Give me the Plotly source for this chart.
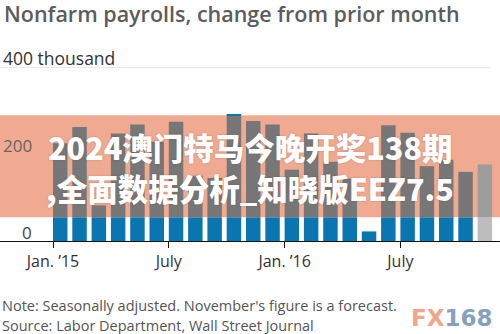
import plotly.graph_objects as go

# Monthly change in nonfarm payrolls, thousands (last month is a forecast)
months = [
    "2015-01", "2015-02", "2015-03", "2015-04", "2015-05", "2015-06",
    "2015-07", "2015-08", "2015-09", "2015-10", "2015-11", "2015-12",
    "2016-01", "2016-02", "2016-03", "2016-04", "2016-05", "2016-06",
    "2016-07", "2016-08", "2016-09", "2016-10", "2016-11",
]
payrolls = [
    225, 262, 82, 247, 268, 228,
    274, 150, 145, 292, 276, 268,
    164, 247, 182, 144, 22, 266,
    249, 172, 187, 159, 176,
]
forecast = [False] * 22 + [True]

tick_months = ["2015-01", "2015-07", "2016-01", "2016-07"]
tick_labels = ["Jan. ’15", "July", "Jan. ’16", "July"]

y_ticks = [0, 200, 400]
y_tick_labels = ["0", "200", "400 thousand"]

# ---- page geometry (pixels) ----
W, H = 500, 334
Y_ZERO_PX, Y_TOP_PX = 240.7, 66.7      # pixel rows of 0 and 400
X_FIRST_PX, MONTH_PX = 53.0, 19.3      # left edge of first month, px per month
Y_MAX = 400
PX_PER_UNIT = (Y_ZERO_PX - Y_TOP_PX) / Y_MAX
BAR_W = 0.75

# translucent banner across the middle of the page
BAND_TOP_PX, BAND_BOT_PX = 115, 217
band_hi = (Y_ZERO_PX - BAND_TOP_PX) / PX_PER_UNIT
band_lo = (Y_ZERO_PX - BAND_BOT_PX) / PX_PER_UNIT

BLUE = "#0a76b1"
BLUE_IN_BAND = "#777777"
FORECAST = "#bdbdbd"
FORECAST_IN_BAND = "#9d9d9d"
SALMON = "#f1aa92"


def py(p):
    """pixel row -> paper y"""
    return (Y_ZERO_PX - p) / (Y_ZERO_PX - Y_TOP_PX)


def px(p):
    """pixel column -> paper x"""
    return p / W


x = list(range(len(months)))

# split each bar into the part below, inside and above the banner
low_h, mid_h, high_h = [], [], []
for v in payrolls:
    low_h.append(min(v, band_lo))
    mid_h.append(max(0.0, min(v, band_hi) - band_lo))
    high_h.append(max(0.0, v - band_hi))

low_col = [FORECAST if f else BLUE for f in forecast]
mid_col = [FORECAST_IN_BAND if f else BLUE_IN_BAND for f in forecast]
high_col = [FORECAST if f else BLUE for f in forecast]

fig = go.Figure()
common = dict(x=x, width=BAR_W, offset=0, hoverinfo="skip", marker_line_width=0)
fig.add_trace(go.Bar(y=low_h, base=[0] * len(x), marker_color=low_col, **common))
fig.add_trace(go.Bar(y=mid_h, base=[band_lo] * len(x), marker_color=mid_col, **common))
fig.add_trace(go.Bar(y=high_h, base=[band_hi] * len(x), marker_color=high_col, **common))

x_lo = -X_FIRST_PX / MONTH_PX
x_hi = x_lo + W / MONTH_PX

fig.update_layout(
    width=W, height=H,
    margin=dict(l=0, r=0, t=Y_TOP_PX, b=H - Y_ZERO_PX, pad=0),
    paper_bgcolor="white", plot_bgcolor="rgba(0,0,0,0)",
    barmode="overlay", showlegend=False,
    font=dict(family="Open Sans", color="#333333"),
    xaxis=dict(
        range=[x_lo, x_hi], showgrid=False, zeroline=False,
        showline=True, linecolor="#111111", linewidth=1.3,
        tickmode="array",
        tickvals=[months.index(m) for m in tick_months],
        ticktext=tick_labels,
        ticks="outside", ticklen=6, tickwidth=1.3, tickcolor="#111111",
        tickfont=dict(size=16, color="#333333"),
        fixedrange=True,
    ),
    yaxis=dict(range=[0, Y_MAX], showgrid=False, zeroline=False,
               showticklabels=False, fixedrange=True),
)

shapes = [
    dict(type="rect", xref="paper", yref="y", x0=-0.02, x1=1.02,
         y0=band_lo, y1=band_hi, fillcolor=SALMON, line_width=0, layer="below"),
    dict(type="line", xref="paper", yref="y", x0=0, x1=px(490),
         y0=y_ticks[-1], y1=y_ticks[-1], line=dict(color="#d6d6d6", width=1.2)),
]
fig.update_layout(shapes=shapes)

ann = []
# y labels sit just above their gridlines
for v, lab in zip(y_ticks, y_tick_labels):
    row = Y_ZERO_PX - v * PX_PER_UNIT - 9
    if v == y_ticks[-1]:
        ann.append(dict(x=px(1), xanchor="left", y=py(row), text=lab,
                        font=dict(size=17.5, color="#333333")))
    else:
        in_band = band_lo < v < band_hi
        ann.append(dict(x=px(34), xanchor="right", y=py(row), text=lab,
                        font=dict(size=17, color="#6a6360" if in_band else "#444444")))

banner_font = dict(family="Noto Sans CJK SC", size=30.5, color="white", weight=900,
                   shadow="0px 0px 2px rgba(90,50,40,0.35)")

ann += [
    dict(x=px(2), xanchor="left", y=py(13), text="Nonfarm payrolls, change from prior month",
         font=dict(size=21.5, color="#5c5c5c", weight=600)),
    dict(x=px(0), xanchor="left", y=py(305),
         text="Note: Seasonally adjusted. November's figure is a forecast.",
         font=dict(size=14.5, color="#555555")),
    dict(x=px(0), xanchor="left", y=py(325),
         text="Source: Labor Department, Wall Street Journal",
         font=dict(size=14.5, color="#555555")),
    dict(x=px(250), xanchor="center", y=py(147),
         text="2024澳门特马今晚开奖138期", font=banner_font),
    dict(x=px(250), xanchor="center", y=py(188),
         text=",全面数据分析_知晓版EEZ7.5", font=banner_font),
    dict(x=px(451), xanchor="center", y=py(318),
         text='<span style="color:#efa68b">FX</span><span style="color:#86a0bd">168</span>',
         font=dict(family="DejaVu Sans", size=23, weight=700)),
]
for a in ann:
    a.update(xref="paper", yref="paper", yanchor="middle", showarrow=False)
fig.update_layout(annotations=ann)

fig.write_html("out.html", config={"displayModeBar": False})
